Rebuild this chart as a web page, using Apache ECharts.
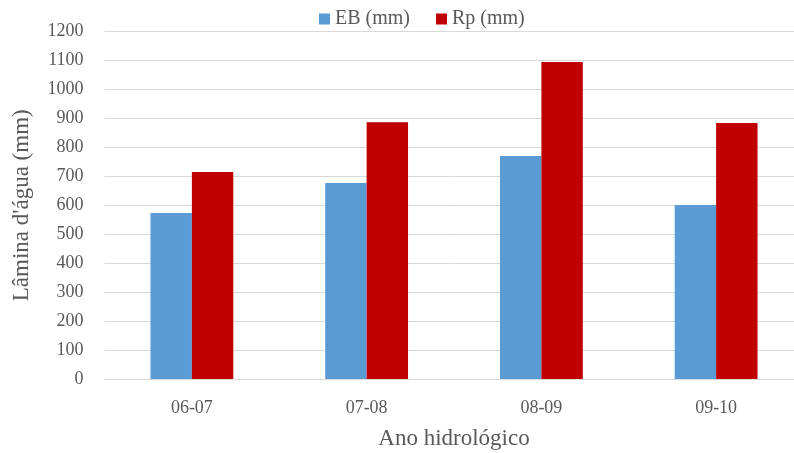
<!DOCTYPE html>
<html>
<head>
<meta charset="utf-8">
<script src="https://cdn.jsdelivr.net/npm/echarts@6/dist/echarts.min.js"></script>
<style>
  html, body { margin: 0; padding: 0; background: #fff; }
  #chart { width: 794px; height: 453px; }
</style>
</head>
<body>
<div id="chart"></div>
<script>
// Hydrological years and annual water depths (mm)
const categories = ['06-07', '07-08', '08-09', '09-10'];
const ebValues = [573, 677, 770, 601];
const rpValues = [715, 887, 1095, 884];
const yTicks = { min: 0, max: 1200, interval: 100 };

const font = 'Liberation Serif, Times New Roman, serif';
const textColor = '#595959';

const chart = echarts.init(document.getElementById('chart'), null, { renderer: 'canvas' });
chart.setOption({
  backgroundColor: '#ffffff',
  animation: false,
  textStyle: { fontFamily: font },
  legend: {
    top: 4,
    left: 314,
    itemWidth: 11,
    itemHeight: 11,
    itemGap: 26,
    itemTextGap: 4,
    icon: 'rect',
    textStyle: { fontFamily: font, fontSize: 20, color: textColor },
    data: ['EB (mm)', 'Rp (mm)']
  },
  grid: {
    left: 104.5, right: -9.5, top: 31.5, bottom: 74,
    containLabel: false,
    outerBoundsMode: 'none'
  },
  xAxis: {
    type: 'category',
    data: categories,
    name: 'Ano hidrológico',
    nameLocation: 'middle',
    nameGap: 48,
    nameTextStyle: { fontFamily: font, fontSize: 23, color: textColor },
    axisLine: { lineStyle: { color: '#d9d9d9', width: 1 } },
    axisTick: { show: false },
    axisLabel: { fontFamily: font, fontSize: 18, color: textColor, margin: 20 }
  },
  yAxis: {
    type: 'value',
    min: yTicks.min,
    max: yTicks.max,
    interval: yTicks.interval,
    name: "Lâmina d'água (mm)",
    nameLocation: 'middle',
    nameGap: 71,
    nameTextStyle: { fontFamily: font, fontSize: 23, color: textColor },
    axisLine: { show: false },
    axisTick: { show: false },
    axisLabel: {
      fontFamily: font, fontSize: 18, color: textColor, margin: 21,
      formatter: (v) => String(v)
    },
    splitLine: { lineStyle: { color: '#d9d9d9', width: 1 } }
  },
  series: [
    {
      name: 'EB (mm)',
      type: 'bar',
      data: ebValues,
      itemStyle: { color: '#5B9BD5' },
      barGap: '0%',
      barCategoryGap: '52.6%'
    },
    {
      name: 'Rp (mm)',
      type: 'bar',
      data: rpValues,
      itemStyle: { color: '#C00000' },
      barGap: '0%',
      barCategoryGap: '52.6%'
    }
  ]
});
</script>
</body>
</html>
